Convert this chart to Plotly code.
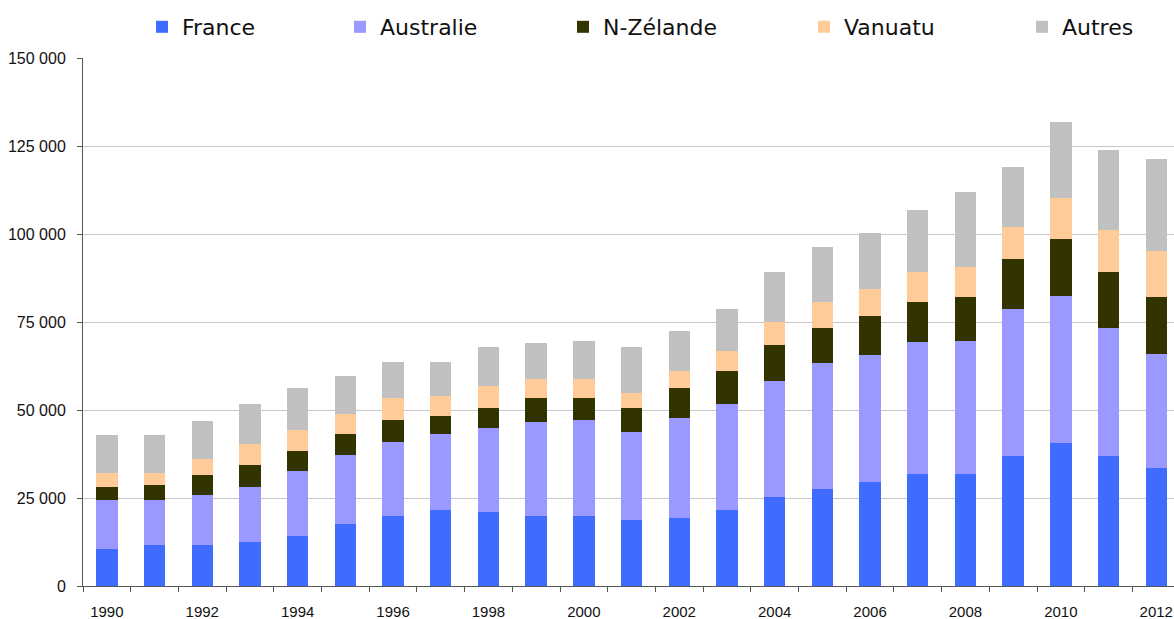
import plotly.graph_objects as go

years = list(range(1990, 2013))

france = [10400, 11600, 11600, 12600, 14300, 17600, 20000, 21700, 21100, 19900, 19900, 18800,
          19300, 21600, 25300, 27600, 29500, 31900, 31900, 36800, 40500, 36800, 33400]
australie = [14000, 12800, 14300, 15500, 18400, 19600, 21000, 21600, 23900, 26700, 27300, 25000,
             28400, 30100, 32900, 35800, 36200, 37300, 37800, 41800, 42000, 36400, 32400]
nzelande = [3700, 4300, 5600, 6300, 5700, 6000, 6200, 5100, 5700, 6800, 6200, 6800,
            8600, 9400, 10300, 10000, 11100, 11600, 12300, 14400, 16200, 15900, 16200]
vanuatu = [4000, 3400, 4600, 5900, 5900, 5700, 6200, 5600, 6000, 5400, 5400, 4200,
           4800, 5700, 6500, 7400, 7700, 8500, 8500, 9100, 11400, 11900, 13300]
autres = [10800, 10800, 10800, 11400, 12000, 10900, 10300, 9700, 11300, 10200, 10800, 13100,
          11300, 11900, 14300, 15400, 15900, 17400, 21300, 16800, 21600, 23000, 25900]

series = [
    ("France", france, "#3F6CFF"),
    ("Australie", australie, "#9999FF"),
    ("N-Zélande", nzelande, "#333300"),
    ("Vanuatu", vanuatu, "#FFCC99"),
    ("Autres", autres, "#C0C0C0"),
]

# left edge (px) of each legend box
legend_x_px = [142, 340, 563, 804, 1022]

label_years = years[::2]
y_ticks = [0, 25000, 50000, 75000, 100000, 125000, 150000]
boundaries = [y - 0.5 for y in years] + [years[-1] + 0.5]

W, H = 1174, 619
L, R, T, B = 83, 0, 58, 33
cat_px = 47.7  # pixel width of one year slot (plot runs past the right edge in the original)
x_range = [years[0] - 0.5, years[0] - 0.5 + (W - L - R) / cat_px]

fig = go.Figure()
legend_layout = {}
for i, (name, vals, col) in enumerate(series):
    lg = "legend" if i == 0 else f"legend{i + 1}"
    fig.add_trace(go.Bar(x=years, y=vals, name=name, legend=lg, showlegend=True,
                         marker=dict(color=col, line=dict(width=0)), width=0.45))
    legend_layout[lg] = dict(
        orientation="h", xref="container", yref="container",
        x=legend_x_px[i] / W, y=1 - 27 / H, xanchor="left", yanchor="middle",
        font=dict(family="DejaVu Sans, Verdana, sans-serif", size=22, color="#111111"),
        bgcolor="rgba(0,0,0,0)", visible=True,
    )

# invisible helper trace so the boundary-tick axis is drawn
fig.add_trace(go.Scatter(x=[], y=[], xaxis="x2", showlegend=False, hoverinfo="skip"))

fig.update_layout(
    barmode="stack",
    width=W, height=H,
    showlegend=True,
    margin=dict(l=L, r=R, t=T, b=B, autoexpand=False),
    plot_bgcolor="white", paper_bgcolor="white",
    separators=", ",
    font=dict(family="Liberation Sans, Arial, sans-serif", color="#111111"),
    xaxis=dict(
        range=x_range, tickvals=label_years, ticktext=[str(y) for y in label_years],
        ticks="", showline=True, linecolor="#555555", linewidth=1, showgrid=False,
        zeroline=False, tickfont=dict(size=15, color="#111111"), ticklabelstandoff=12,
        automargin=False,
    ),
    xaxis2=dict(
        overlaying="x", anchor="y", side="bottom", matches="x",
        range=x_range, tickvals=boundaries, ticks="outside", ticklen=5,
        tickcolor="#555555", showticklabels=False, showline=False, showgrid=False,
        zeroline=False,
    ),
    yaxis=dict(
        range=[0, 150000], tickvals=y_ticks, tickformat=",.0f",
        ticks="outside", ticklen=5, tickcolor="#555555",
        showline=True, linecolor="#555555", linewidth=1,
        showgrid=True, gridcolor="#C8C8C8", gridwidth=1, zeroline=False,
        tickfont=dict(size=16, color="#111111"), ticklabelstandoff=8,
        automargin=False,
    ),
    **legend_layout,
)

fig.write_html(
    "out.html",
    config={"displayModeBar": False},
    post_script="document.body.style.margin='0';document.body.style.overflow='hidden';",
)
